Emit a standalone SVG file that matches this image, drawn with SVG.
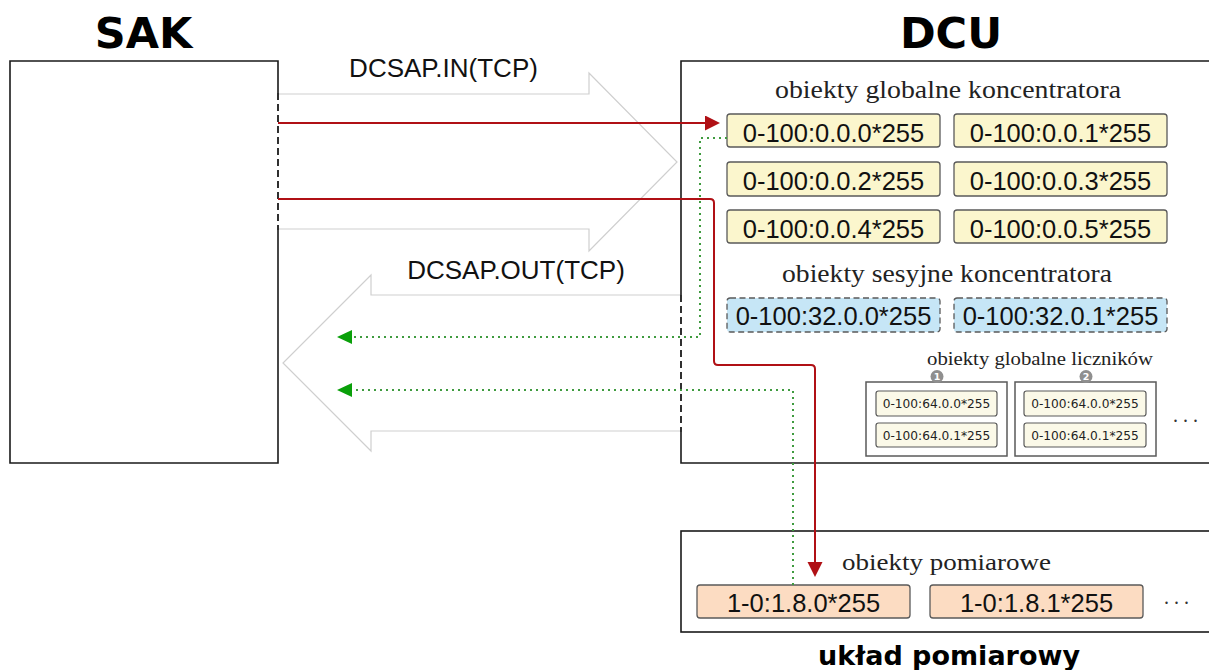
<svg xmlns="http://www.w3.org/2000/svg" width="1209" height="670" viewBox="0 0 1209 670">
  <style>
    .frame { fill: #ffffff; stroke: #1a1a1a; stroke-width: 1.6; }
    .edge-dash { stroke: #1a1a1a; stroke-width: 1.8; stroke-dasharray: 7 4; fill: none; }
    .title { font-family: "DejaVu Sans", sans-serif; font-weight: bold; fill: #000; text-anchor: middle; }
    .chan { fill: none; stroke: #cfcfcf; stroke-width: 1.2; }
    .chan-label { font-family: "Liberation Sans", Arial, sans-serif; font-size: 26px; fill: #111; text-anchor: middle; }
    .group-label { font-family: "Liberation Serif", "Times New Roman", serif; fill: #222; text-anchor: middle; }
    .obj { stroke: #5a5a5a; stroke-width: 1.3; }
    .glob { fill: #fbf6cd; }
    .sess { fill: #c6e6f6; stroke-dasharray: 6 3.5; }
    .meas { fill: #fcdcc2; }
    .mini { fill: #fbf9e8; stroke: #5a5a5a; stroke-width: 1.2; }
    .meter { fill: #ffffff; stroke: #5a5a5a; stroke-width: 1.5; }
    .obis { font-family: "Liberation Sans", Arial, sans-serif; font-size: 25.5px; fill: #111; text-anchor: middle; }
    .obis-s { font-family: "DejaVu Sans", sans-serif; font-size: 12.2px; fill: #222; text-anchor: middle; }
    .badge { fill: #8f8f8f; }
    .badge-t { font-family: "DejaVu Sans", sans-serif; font-size: 9.5px; font-weight: bold; fill: #fff; text-anchor: middle; }
    .req { fill: none; stroke: #b01015; stroke-width: 2; }
    .resp { fill: none; stroke: #3f9b3f; stroke-width: 2; stroke-dasharray: 2 4; }
    .dots { font-family: "Liberation Serif", serif; font-size: 20px; fill: #333; letter-spacing: 5px; }
  </style>
  <defs>
    <marker id="head-red" markerUnits="userSpaceOnUse" markerWidth="16" markerHeight="16" refX="0" refY="7.5" orient="auto">
      <path d="M0,0 L15,7.5 L0,15 z" fill="#b01015"/>
    </marker>
    <marker id="head-green" markerUnits="userSpaceOnUse" markerWidth="16" markerHeight="16" refX="0" refY="7" orient="auto">
      <path d="M0,0 L15,7 L0,14 z" fill="#0aa00a"/>
    </marker>
  </defs>

  <!-- channel arrows -->
  <g id="channels">
    <path class="chan" d="M278,94 H589 V73 L677,162 L589,251 V229 H278"/>
    <text class="chan-label" x="443.5" y="77">DCSAP.IN(TCP)</text>
    <path class="chan" d="M681,295 H371 V275 L283,363 L371,451 V431 H681"/>
    <text class="chan-label" x="516" y="279">DCSAP.OUT(TCP)</text>
  </g>

  <!-- SAK -->
  <g id="sak">
    <text class="title" x="143.5" y="48" font-size="43">SAK</text>
    <path class="frame" d="M278,93 V61 H10 V463 H278 V230"/>
    <path class="edge-dash" d="M278,93 V230"/>
  </g>

  <!-- DCU -->
  <g id="dcu">
    <text class="title" x="951" y="48" font-size="43">DCU</text>
    <path class="frame" d="M681,295 V61 H1215 V463 H681 V432" />
    <path class="edge-dash" d="M681,295 V432"/>

    <text class="group-label" x="948" y="98" font-size="25" textLength="346" lengthAdjust="spacingAndGlyphs">obiekty globalne koncentratora</text>

    <g id="g-0-0">
      <rect class="obj glob" x="727" y="114" width="213" height="33" rx="3"/>
      <text class="obis" x="833.5" y="142">0-100:0.0.0*255</text>
    </g>
    <g id="g-0-1">
      <rect class="obj glob" x="954" y="114" width="213" height="33" rx="3"/>
      <text class="obis" x="1060.5" y="142">0-100:0.0.1*255</text>
    </g>
    <g id="g-0-2">
      <rect class="obj glob" x="727" y="162" width="213" height="34" rx="3"/>
      <text class="obis" x="833.5" y="190">0-100:0.0.2*255</text>
    </g>
    <g id="g-0-3">
      <rect class="obj glob" x="954" y="162" width="213" height="34" rx="3"/>
      <text class="obis" x="1060.5" y="190">0-100:0.0.3*255</text>
    </g>
    <g id="g-0-4">
      <rect class="obj glob" x="727" y="210" width="213" height="33" rx="3"/>
      <text class="obis" x="833.5" y="238">0-100:0.0.4*255</text>
    </g>
    <g id="g-0-5">
      <rect class="obj glob" x="954" y="210" width="213" height="33" rx="3"/>
      <text class="obis" x="1060.5" y="238">0-100:0.0.5*255</text>
    </g>

    <text class="group-label" x="947" y="282" font-size="25" textLength="330" lengthAdjust="spacingAndGlyphs">obiekty sesyjne koncentratora</text>

    <g id="s-32-0">
      <rect class="obj sess" x="727" y="298" width="213" height="34" rx="3"/>
      <text class="obis" x="833.5" y="325">0-100:32.0.0*255</text>
    </g>
    <g id="s-32-1">
      <rect class="obj sess" x="954" y="298" width="213" height="34" rx="3"/>
      <text class="obis" x="1060.5" y="325">0-100:32.0.1*255</text>
    </g>

    <text class="group-label" x="1040" y="365" font-size="19" textLength="226" lengthAdjust="spacingAndGlyphs">obiekty globalne liczników</text>

    <g id="meter-1">
      <rect class="meter" x="866" y="382" width="141" height="74"/>
      <circle class="badge" cx="937" cy="376.5" r="6.5"/>
      <text class="badge-t" x="937" y="380">1</text>
      <rect class="mini" x="876" y="391" width="121" height="25" rx="2.5"/>
      <text class="obis-s" x="936.5" y="408">0-100:64.0.0*255</text>
      <rect class="mini" x="876" y="423" width="121" height="24" rx="2.5"/>
      <text class="obis-s" x="936.5" y="440">0-100:64.0.1*255</text>
    </g>
    <g id="meter-2">
      <rect class="meter" x="1015" y="382" width="141" height="74"/>
      <circle class="badge" cx="1086" cy="376.5" r="6.5"/>
      <text class="badge-t" x="1086" y="380">2</text>
      <rect class="mini" x="1024" y="391" width="122" height="25" rx="2.5"/>
      <text class="obis-s" x="1085" y="408">0-100:64.0.0*255</text>
      <rect class="mini" x="1024" y="423" width="122" height="24" rx="2.5"/>
      <text class="obis-s" x="1085" y="440">0-100:64.0.1*255</text>
    </g>
    <text class="dots" x="1173" y="422">...</text>
  </g>

  <!-- metering unit -->
  <g id="uklad">
    <rect class="frame" x="681" y="531" width="534" height="101"/>
    <text class="group-label" x="946.5" y="570" font-size="24" textLength="209" lengthAdjust="spacingAndGlyphs">obiekty pomiarowe</text>
    <g id="m-1-8-0">
      <rect class="obj meas" x="697" y="585" width="213" height="33" rx="3"/>
      <text class="obis" x="803.5" y="612">1-0:1.8.0*255</text>
    </g>
    <g id="m-1-8-1">
      <rect class="obj meas" x="930" y="585" width="213" height="33" rx="3"/>
      <text class="obis" x="1036.5" y="612">1-0:1.8.1*255</text>
    </g>
    <text class="dots" x="1164" y="604">...</text>
    <text class="title" x="949" y="665" font-size="27">układ pomiarowy</text>
  </g>

  <!-- requests and responses -->
  <g id="connectors">
    <path class="req" d="M278,123 H705" marker-end="url(#head-red)"/>
    <path class="req" d="M278,199 H710 Q714,199 714,203 V361 Q714,365 718,365 H811 Q815,365 815,369 V562" marker-end="url(#head-red)"/>
    <path class="resp" d="M727,138 H700 V337 H352" marker-end="url(#head-green)"/>
    <path class="resp" d="M793,585 V390 H352" marker-end="url(#head-green)"/>
  </g>
</svg>
